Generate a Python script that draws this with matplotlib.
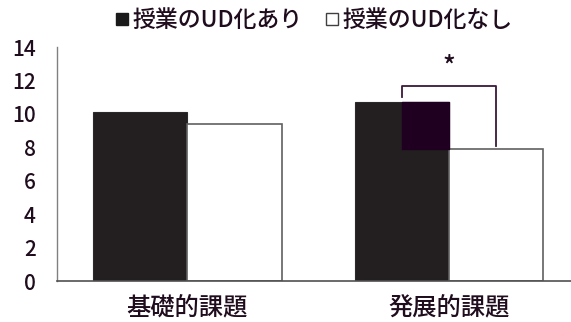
import numpy as np
import matplotlib
matplotlib.use('Agg')
import matplotlib.pyplot as plt
from matplotlib.lines import Line2D

plt.rcParams['font.family'] = ['Noto Sans CJK JP', 'DejaVu Sans']
plt.rcParams['font.weight'] = 'medium'

# Data
categories = ['基礎的課題', '発展的課題']
series_names = ['授業のUD化あり', '授業のUD化なし']
with_ud = [10.1, 10.7]
without_ud = [9.4, 7.9]
yticks = [0, 2, 4, 6, 8, 10, 12, 14]

# significance bracket on the second group
bracket_top = 11.65
bracket_left_end = 11.0
bracket_right_end = 8.1

text_color = '#1f0c1d'
dark = '#231e1f'
w = 0.36

fig = plt.figure(figsize=(5.71, 3.22), dpi=100)
ax = fig.add_axes([0.099, 0.126, 0.901, 0.728])

x = np.arange(len(categories))
ax.bar(x - w / 2, with_ud, w, color=dark, edgecolor='#2a2a2a', linewidth=0.8)
ax.bar(x + w / 2, without_ud, w, color='white', edgecolor='#606060', linewidth=1.2)

# bracket + its odd fill over the dark bar
bx0, bx1 = x[1] - w / 2, x[1] + w / 2
ax.fill_between([bx0, x[1]], without_ud[1], with_ud[1], color='#200020', zorder=3)
ax.plot([bx0, bx0, bx1, bx1], [bracket_left_end, bracket_top, bracket_top, bracket_right_end],
        color='#3a1838', linewidth=1.3, zorder=4)
ax.text(x[1], bracket_top + 0.35, '*', ha='center', va='bottom', fontsize=19, color=text_color)

ax.set_xlim(-0.5, 1.466)
ax.set_ylim(0, 14)
ax.set_yticks(yticks)
ax.set_xticks(x)
ax.set_xticklabels(categories, fontsize=17.5, color=text_color)
ax.tick_params(axis='y', length=0, labelsize=15, labelcolor=text_color, pad=15)
ax.tick_params(axis='x', length=0, pad=10)
for s in ['top', 'right']:
    ax.spines[s].set_visible(False)
ax.spines['left'].set_color('#808080')
ax.spines['bottom'].set_color('#505050')
ax.spines['left'].set_linewidth(1.0)
ax.spines['bottom'].set_linewidth(1.2)

handles = [Line2D([], [], marker='s', linestyle='none', markersize=8.5,
                  markerfacecolor='#1a1a1a', markeredgecolor='#1a1a1a'),
           Line2D([], [], marker='s', linestyle='none', markersize=8.5,
                  markerfacecolor='white', markeredgecolor='#404040')]
fig.legend(handles, series_names, loc='center', bbox_to_anchor=(0.55, 0.935), ncol=2,
           frameon=False, fontsize=16.5, handlelength=0.6, handletextpad=0.15,
           columnspacing=1.0, labelcolor=text_color)

fig.savefig('out.png', dpi=100)
